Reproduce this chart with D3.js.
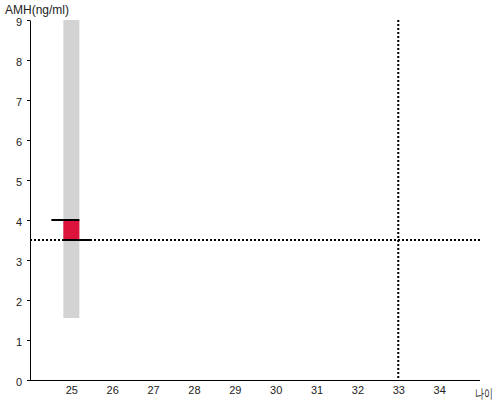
<!DOCTYPE html>
<html><head><meta charset="utf-8">
<script src="https://cdn.jsdelivr.net/npm/d3@7"></script>
<style>body{margin:0;background:#fff}text{font-family:Arial,"Liberation Sans",sans-serif}</style>
</head><body><svg id="c" width="500" height="400"></svg>
<script>
const xTicks = [25,26,27,28,29,30,31,32,33,34];
const yTicks = [0,1,2,3,4,5,6,7,8,9];
const rangeAge = [25];
const rangeLow = [1.55];
const rangeHigh = [9];
const valueLow = [3.5];
const valueHigh = [4.0];
const refAMH = 3.5;
const refAge = 33;
const yLabel = "AMH(ng/ml)";
const xLabel = "나이";

const svg = d3.select("#c");
const x = d3.scaleLinear().domain([24,35]).range([30.5,480]);
const y = d3.scaleLinear().domain([0,9]).range([380,20]);

// gray range band
svg.selectAll("rect.band").data(rangeAge).enter().append("rect")
  .attr("x", (d)=>x(d)-8).attr("width",16)
  .attr("y",(d,i)=>y(rangeHigh[i])).attr("height",(d,i)=>y(rangeLow[i])-y(rangeHigh[i]))
  .attr("fill","#d3d3d3");
// red box
svg.selectAll("rect.val").data(rangeAge).enter().append("rect")
  .attr("x", (d)=>x(d)-8).attr("width",16)
  .attr("y",(d,i)=>y(valueHigh[i])).attr("height",(d,i)=>y(valueLow[i])-y(valueHigh[i]))
  .attr("fill","#dc143c");
// marker lines
rangeAge.forEach((d,i)=>{
  svg.append("line").attr("x1",x(d)-20).attr("x2",x(d)+8).attr("y1",y(valueHigh[i])).attr("y2",y(valueHigh[i]))
    .attr("stroke","#000").attr("stroke-width",2);
  svg.append("line").attr("x1",x(d)-8).attr("x2",x(d)+20).attr("y1",y(valueLow[i])).attr("y2",y(valueLow[i]))
    .attr("stroke","#000").attr("stroke-width",2);
});

// axes
const gy = svg.append("g").attr("transform","translate(30,0)")
  .call(d3.axisLeft(y).tickValues(yTicks).tickSize(3).tickSizeOuter(0).tickFormat(d3.format("d")));
const gx = svg.append("g").attr("transform","translate(0,380)")
  .call(d3.axisBottom(x).tickValues(xTicks).tickSize(0).tickSizeOuter(0).tickPadding(6).tickFormat(d3.format("d")));
gx.select(".domain").attr("d","M30,0.5H480").attr("stroke","#000");
gy.select(".domain").attr("stroke","#000");
svg.selectAll(".tick text").attr("font-size",11).attr("fill","#222").attr("font-family","Arial,'Liberation Sans',sans-serif");
gy.selectAll(".tick text").attr("x",-8).attr("dy","0.5em");
gy.selectAll(".tick line").attr("stroke","#000");

// reference lines
svg.append("line").attr("x1",30).attr("x2",480).attr("y1",y(refAMH)).attr("y2",y(refAMH))
  .attr("stroke","#000").attr("stroke-width",2).attr("stroke-dasharray","2,2");
svg.append("line").attr("x1",x(refAge)).attr("x2",x(refAge)).attr("y1",y(9)).attr("y2",y(0))
  .attr("stroke","#000").attr("stroke-width",2).attr("stroke-dasharray","2,2");

svg.append("text").attr("x",5).attr("y",14).attr("font-size",12).attr("fill","#222").text(yLabel);
svg.append("text").attr("x",475).attr("y",398).attr("font-size",13).attr("fill","#222")
  .attr("textLength",18).attr("lengthAdjust","spacingAndGlyphs").text(xLabel);
</script></body></html>
